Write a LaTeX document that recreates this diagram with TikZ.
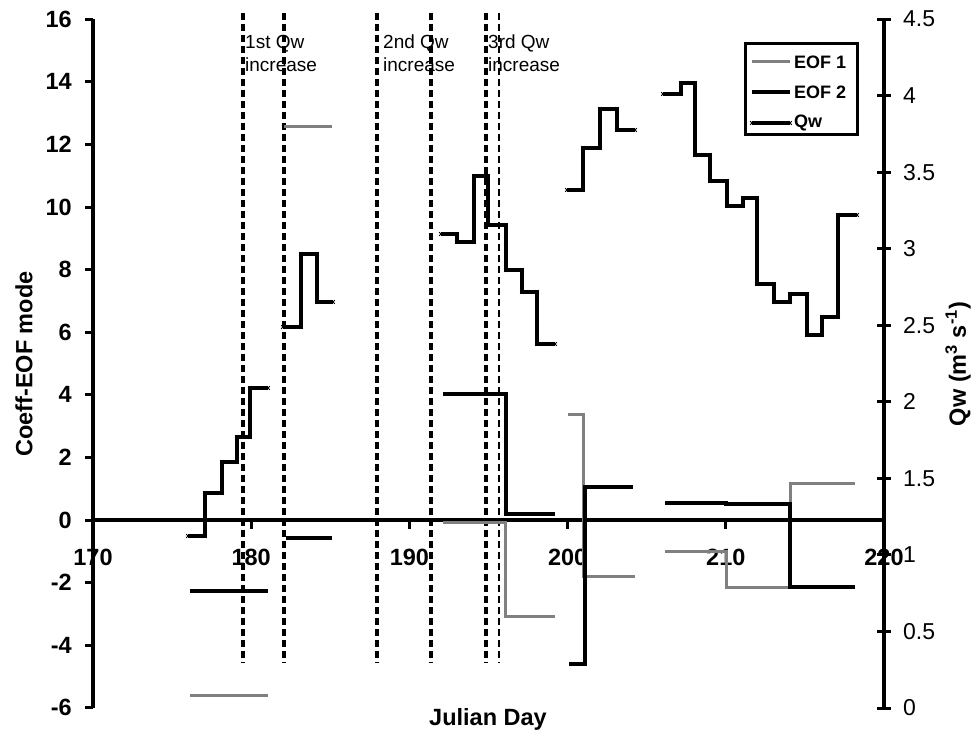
\documentclass[tikz,border=0pt]{standalone}
\usepackage{fontspec}
\setmainfont{Liberation Sans}
\definecolor{eofgray}{RGB}{128,128,128}
\begin{document}
\begin{tikzpicture}[x=1pt,y=-1pt,
  axisline/.style={line width=4pt},
  tickline/.style={line width=3pt},
  qwline/.style={line width=4.2pt, black, line join=miter, mark=x, mark size=2.5pt, mark options={line width=0.8pt, solid}},
  eoftwo/.style={line width=3.4pt, black},
  eofone/.style={line width=3pt, eofgray},
  vdash/.style={line width=3.6pt, dash pattern=on 7pt off 4pt},
  vdashthin/.style={line width=1.8pt, dash pattern=on 7pt off 4pt},
  lbl/.style={font=\fontsize{23.5}{27}\selectfont\bfseries, inner sep=0pt},
  rlbl/.style={font=\fontsize{23}{27}\selectfont, inner sep=0pt, anchor=west},
  note/.style={font=\fontsize{19}{23}\selectfont, align=left, inner sep=0pt, anchor=west},
  legtxt/.style={font=\fontsize{18}{21}\selectfont\bfseries, inner sep=0pt, anchor=west},
]
\useasboundingbox (0,0) rectangle (972,733);

% axes
\draw[axisline] (93,19) -- (93,708);
\draw[axisline] (884,19) -- (884,708);

% left axis ticks and labels
\foreach \c in {-6,-4,...,16} {
  \pgfmathsetmacro\yy{520-\c*31.3}
  \draw[tickline] (85,\yy) -- (93,\yy);
  \node[lbl, anchor=east] (yl\c) at (72,\yy) {\c};
}
% right axis ticks and labels
\foreach \q in {0,0.5,1,1.5,2,2.5,3,3.5,4,4.5} {
  \pgfmathsetmacro\yy{708-\q*153.1}
  \draw[tickline] (877,\yy) -- (891,\yy);
  \node[rlbl] (yr\q) at (903,\yy) {\q};
}
% x labels
\foreach \d [count=\i from 0] in {170,180,190,200,210,220} {
  \node[lbl] (xl\d) at (93+\i*158.2,557) {\d};
}
\foreach \i in {1,...,4} {
  \draw[tickline] (93+\i*158.2,520) -- (93+\i*158.2,529);
}
\draw[axisline] (93,520) -- (884,520);

% titles
\node[lbl, rotate=90] (ytitle) at (24,364) {Coeff-EOF mode};
\node[lbl] (xtitle) at (488,719) {Julian Day};
\node[lbl, rotate=90] (y2title) at (958,364) {Qw (m\textsuperscript{3} s\textsuperscript{-1})};

% dashed event lines
\draw[vdash] (243,13) -- (243,663);
\draw[vdash] (284,13) -- (284,663);
\draw[vdash] (377,13) -- (377,663);
\draw[vdash] (431,13) -- (431,663);
\draw[vdash] (486,13) -- (486,663);
\draw[vdashthin] (499,13) -- (499,663);

\node[note] (ev1) at (245,53.5) {1st Qw\\increase};
\node[note] (ev2) at (383,53.5) {2nd Qw\\increase};
\node[note] (ev3) at (488,53.5) {3rd Qw\\increase};

% EOF 1 (gray)
\draw[eofone] (190,695) -- (268,695);
\draw[eofone] (284,127) -- (332,127);
\draw[eofone] (443,522) -- (505,522) -- (505,616) -- (555,616);
\draw[eofone] (568,414) -- (583,414) -- (583,576) -- (635,576);
\draw[eofone] (665,551) -- (726,551) -- (726,587) -- (790,587) -- (790,483) -- (855,483);

% EOF 2 (black)
\draw[eoftwo] (190,591) -- (268,591);
\draw[eoftwo] (286,538) -- (332,538);
\draw[eoftwo] (443,394) -- (506,394) -- (506,514) -- (555,514);
\draw[eoftwo] (569,664) -- (585,664) -- (585,487) -- (633,487);
\draw[eoftwo] (665,503) -- (726,503) -- (726,504) -- (790,504) -- (790,587) -- (855,587);

% Qw steps
\draw[qwline] plot coordinates {(188,536) (205,536) (205,493) (222,493) (222,462) (237,462) (237,437) (250,437) (250,388) (268,388)};
\draw[qwline] plot coordinates {(283,327) (301,327) (301,254) (317,254) (317,302) (333,302)};
\draw[qwline] plot coordinates {(441,234) (457,234) (457,242) (474,242) (474,176) (488,176) (488,225) (506,225) (506,270) (522,270) (522,292) (537,292) (537,344) (555,344)};
\draw[qwline] plot coordinates {(567,190) (583,190) (583,148) (600,148) (600,109) (617,109) (617,130) (635,130)};
\draw[qwline] plot coordinates {(663,94) (681,94) (681,83) (695,83) (695,155) (710,155) (710,181) (727,181) (727,206) (743,206) (743,198) (757,198) (757,284) (774,284) (774,302) (790,302) (790,294) (807,294) (807,335) (822,335) (822,317) (838,317) (838,215) (857,215)};

% legend
\node[draw, line width=3pt, fill=white, minimum width=112pt, minimum height=91pt, inner sep=0pt] (legend) at (801,89.5) {};
\draw[eofone] (752,62) -- (790,62);
\node[legtxt] (leg1) at (794,62) {EOF 1};
\draw[eoftwo] (752,92) -- (790,92);
\node[legtxt] (leg2) at (794,92) {EOF 2};
\draw[qwline] plot coordinates {(752,123) (790,123)};
\node[legtxt] (leg3) at (794,123) {Qw};
\end{tikzpicture}
\end{document}
